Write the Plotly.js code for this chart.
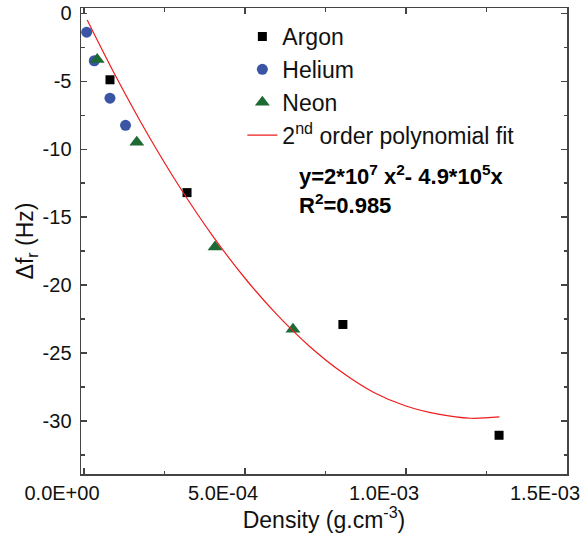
<!DOCTYPE html>
<html>
<head>
<meta charset="utf-8">
<script src="https://cdn.plot.ly/plotly-3.0.1.min.js"></script>
<style>html,body{margin:0;padding:0;background:#fff;}#chart{width:584px;height:541px;}</style>
</head>
<body>
<div id="chart"></div>
<script>
// Data
const argonX = [0.0000807, 0.00032, 0.000804, 0.001289];
const argonY = [-4.9, -13.2, -22.9, -31.05];
const heliumX = [0.0000083, 0.000032, 0.0000807, 0.000129];
const heliumY = [-1.4, -3.5, -6.25, -8.25];
const neonX = [0.000041, 0.000164, 0.000407, 0.000649];
const neonY = [-3.4, -9.5, -17.2, -23.25];
const fitX = [0.00001, 0.0001, 0.0002, 0.0003, 0.0004, 0.0005, 0.0006, 0.0007, 0.0008, 0.0009, 0.001, 0.0011, 0.0012, 0.00129];
const fitY = [-0.5, -4.7, -9.0, -12.9, -16.4, -19.5, -22.2, -24.5, -26.4, -27.9, -28.9, -29.5, -29.8, -29.7];
const xTickVals = [0, 0.0005, 0.001, 0.0015];
const xTickText = ['0.0E+00', '5.0E-04', '1.0E-03', '1.5E-03'];
const yTickVals = [0, -5, -10, -15, -20, -25, -30];
const yTickText = ['0', '-5', '-10', '-15', '-20', '-25', '-30'];
const seriesNames = ['Argon', 'Helium', 'Neon', '2<sup>nd</sup> order polynomial fit'];
const eqText = 'y=2*10<sup>7</sup> x<sup>2</sup>- 4.9*10<sup>5</sup>x';
const r2Text = 'R<sup>2</sup>=0.985';

const FONT = 'Liberation Sans, Arial, sans-serif';
const traces = [
  {x: argonX, y: argonY, name: seriesNames[0], mode: 'markers', type: 'scatter',
   marker: {symbol: 'square', size: 9, color: '#000000'}},
  {x: heliumX, y: heliumY, name: seriesNames[1], mode: 'markers', type: 'scatter',
   marker: {symbol: 'circle', size: 11, color: '#3a55a6'}},
  {x: neonX, y: neonY, name: seriesNames[2], mode: 'markers', type: 'scatter',
   marker: {symbol: 'triangle-up', size: 13, color: '#1c6a34'}},
  {x: fitX, y: fitY, name: seriesNames[3], mode: 'lines', type: 'scatter',
   line: {color: '#ee1c1c', width: 1.2, shape: 'spline'}}
];
const axisCommon = {
  showgrid: false, zeroline: false, showline: true, linecolor: '#444', linewidth: 1.5,
  mirror: 'ticks', ticks: 'inside', ticklen: 6, tickwidth: 1.2, tickcolor: '#444',
  tickfont: {family: FONT, size: 20, color: '#111'}
};
const layout = {
  width: 584, height: 541,
  margin: {l: 81, r: 17, t: 8, b: 67, autoexpand: false},
  paper_bgcolor: '#fff', plot_bgcolor: '#fff',
  showlegend: true,
  legend: {x: 0.332, y: 0.985, xanchor: 'left', yanchor: 'top', bgcolor: 'rgba(0,0,0,0)',
           font: {family: FONT, size: 23, color: '#111'}, tracegroupgap: 0},
  xaxis: Object.assign({}, axisCommon, {
    range: [-0.0000093, 0.0015], tickvals: xTickVals, ticktext: xTickText,
    ticklabelshift: -22,
    minor: {dtick: 0.00025, ticks: 'inside', ticklen: 3.5, tickcolor: '#444', tickwidth: 1.2},
    title: {text: 'Density (g.cm<sup>-3</sup>)', font: {family: FONT, size: 23, color: '#111'}, standoff: 8}
  }),
  yaxis: Object.assign({}, axisCommon, {
    range: [-33.9, 0.38], tickvals: yTickVals, ticktext: yTickText,
    ticklabelstandoff: 4,
    minor: {dtick: 2.5, ticks: 'inside', ticklen: 3.5, tickcolor: '#444', tickwidth: 1.2},
    title: {text: 'Δf<sub>r</sub> (Hz)', font: {family: FONT, size: 23, color: '#111'}, standoff: 2}
  }),
  annotations: [
    {text: eqText + '<br>' + r2Text, align: 'left', xref: 'paper', yref: 'paper', x: 0.444, y: 0.61,
     xanchor: 'left', yanchor: 'middle',
     showarrow: false, font: {family: FONT, size: 22, color: '#000', weight: 'bold'}}
  ]
};
Plotly.newPlot('chart', traces, layout, {displayModeBar: false, staticPlot: true});
</script>
</body>
</html>
